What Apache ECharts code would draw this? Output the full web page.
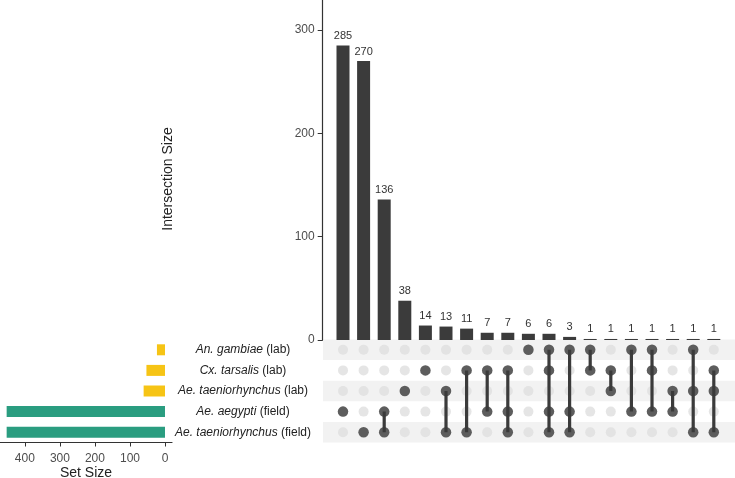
<!DOCTYPE html>
<html><head><meta charset="utf-8">
<script src="https://cdn.jsdelivr.net/npm/echarts@6/dist/echarts.min.js"></script>
<style>html,body{margin:0;padding:0;background:#fff}#c{width:735px;height:478px}</style>
</head><body><div id="c"></div>
<script>
// ---- data ----
var setNames = ['An. gambiae', 'Cx. tarsalis', 'Ae. taeniorhynchus', 'Ae. aegypti', 'Ae. taeniorhynchus'];
var setTags = ['(lab)', '(lab)', '(lab)', '(field)', '(field)'];
var setSizes = [23, 53, 61, 452, 452];
var intersectionSizes = [285, 270, 136, 38, 14, 13, 11, 7, 7, 6, 6, 3, 1, 1, 1, 1, 1, 1, 1];
var memberships = [[3], [4], [3, 4], [2], [1], [2, 4], [1, 4], [1, 3], [1, 3, 4], [0], [0, 1, 3, 4], [0, 3, 4], [0, 1], [1, 2], [0, 3], [0, 1, 3], [2, 3], [0, 2, 4], [1, 2, 4]];
var intersectionTicks = [0, 100, 200, 300];
var setSizeTicks = [0, 100, 200, 300, 400];

// ---- build ----
var font = 'Liberation Sans, Arial, sans-serif';
var cols = intersectionSizes.map(function (_, i) { return i; });
var setCats = setNames.map(function (n, i) { return n + ' ' + setTags[i]; });
var allCells = [], memberCells = [], lineData = [];
memberships.forEach(function (m, c) {
  for (var r = 0; r < setNames.length; r++) allCells.push([c, r]);
  m.forEach(function (r) { memberCells.push([c, r]); });
  if (m.length > 1) {
    lineData.push([c, Math.min.apply(null, m)]);
    lineData.push([c, Math.max.apply(null, m)]);
    lineData.push('-');
  }
});
var DARK = '#3b3b3b';
var chart = echarts.init(document.getElementById('c'), null, {renderer: 'canvas'});
chart.setOption({
  animation: false,
  textStyle: {fontFamily: font},
  grid: [
    {left: 332.7, top: 0, width: 391.4, height: 340, outerBoundsMode: 'none', containLabel: false},
    {left: 323, top: 339.5, width: 412, height: 103, outerBoundsMode: 'none', containLabel: false},
    {left: 0, top: 339.5, width: 172, height: 103, outerBoundsMode: 'none', containLabel: false}
  ],
  xAxis: [
    {type: 'category', gridIndex: 0, data: cols, show: false},
    {type: 'value', gridIndex: 1, min: -0.971, max: 19.029, show: false},
    {type: 'value', gridIndex: 2, inverse: true, min: -20, max: 471,
     axisLine: {show: true, lineStyle: {color: '#333', width: 1.2}},
     axisTick: {show: true, length: 4, lineStyle: {color: '#333'}, customValues: setSizeTicks},
     axisLabel: {fontSize: 12, color: '#4d4d4d', margin: 10, customValues: setSizeTicks, fontFamily: font},
     splitLine: {show: false},
     name: 'Set Size', nameLocation: 'middle', nameGap: 24,
     nameTextStyle: {fontSize: 14, color: '#222', fontFamily: font}}
  ],
  yAxis: [
    {type: 'value', gridIndex: 0, min: 0, max: 329, offset: 10,
     axisLine: {show: true, lineStyle: {color: '#333', width: 1.2}},
     axisTick: {show: true, length: 5, lineStyle: {color: '#333'}, customValues: intersectionTicks},
     axisLabel: {fontSize: 12, color: '#4d4d4d', margin: 8, customValues: intersectionTicks, fontFamily: font},
     splitLine: {show: false}},
    {type: 'category', gridIndex: 1, data: setCats, inverse: true,
     axisLine: {show: false}, axisTick: {show: false}, axisLabel: {show: false},
     splitLine: {show: false},
     splitArea: {show: true, areaStyle: {color: ['#f2f2f2', 'rgba(255,255,255,0)']}}},
    {type: 'category', gridIndex: 2, data: setCats, inverse: true, position: 'right',
     axisLine: {show: false}, axisTick: {show: false},
     axisLabel: {margin: 71, align: 'center', fontSize: 12, color: '#222', fontFamily: font,
       formatter: function (v, i) { return '{i|' + setNames[i] + '} ' + setTags[i]; },
       rich: {i: {fontStyle: 'italic', fontSize: 12, color: '#222', fontFamily: font}}}}
  ],
  graphic: [
    {type: 'text', x: 168, y: 179, rotation: Math.PI / 2,
     style: {text: 'Intersection Size', fontSize: 14, fill: '#222', font: '14px ' + font, align: 'center', verticalAlign: 'middle'}}
  ],
  series: [
    {type: 'bar', xAxisIndex: 0, yAxisIndex: 0, data: intersectionSizes, barWidth: 13,
     itemStyle: {color: DARK},
     label: {show: true, position: 'top', distance: 4, fontSize: 11, color: '#333', fontFamily: font}},
    {type: 'scatter', xAxisIndex: 1, yAxisIndex: 1, data: allCells, symbolSize: 10,
     itemStyle: {color: '#dedede'}, z: 1},
    {type: 'line', xAxisIndex: 1, yAxisIndex: 1, data: lineData, symbol: 'none',
     lineStyle: {color: DARK, width: 3.2}, z: 5},
    {type: 'scatter', xAxisIndex: 1, yAxisIndex: 1, data: memberCells, symbolSize: 10.5,
     itemStyle: {color: DARK}, z: 6},
    {type: 'bar', xAxisIndex: 2, yAxisIndex: 2, barWidth: 11,
     data: setSizes.map(function (v, i) {
       return {value: v, itemStyle: {color: setTags[i] === '(lab)' ? '#f6c415' : '#2a9d80'}};
     })}
  ]
});
</script></body></html>
